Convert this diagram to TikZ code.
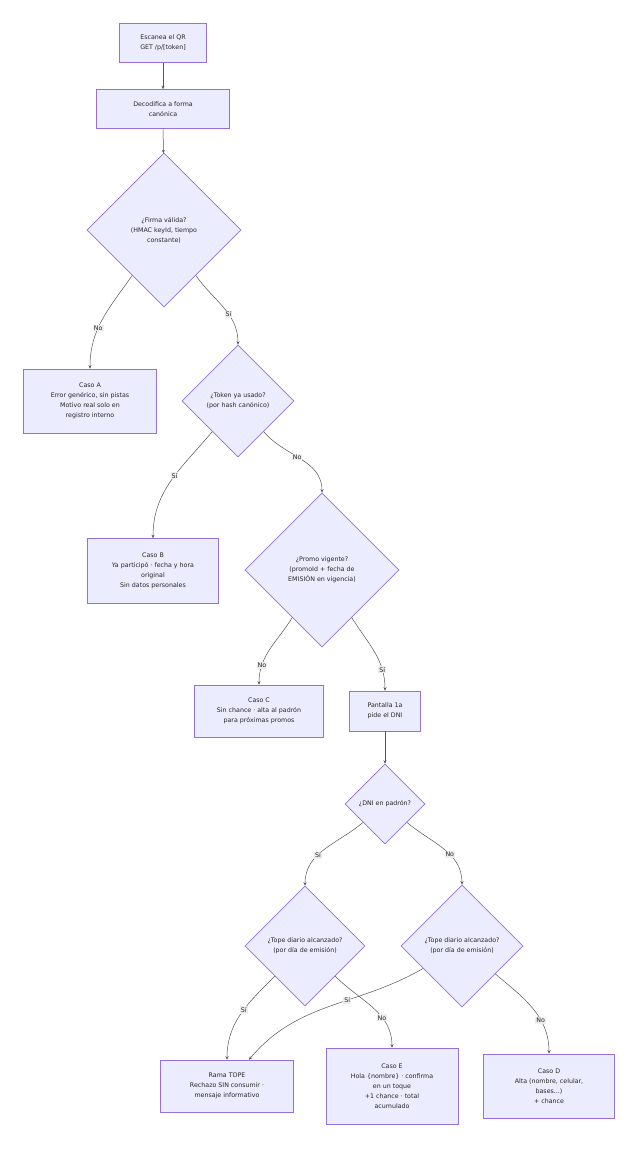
\documentclass[tikz,border=0pt]{standalone}
\usepackage{fontspec}
\setmainfont{DejaVu Sans}
\usetikzlibrary{shapes.geometric,arrows.meta}
\definecolor{nfill}{HTML}{ECECFF}
\definecolor{nline}{HTML}{9370DB}
\definecolor{eline}{HTML}{555555}
\begin{document}
\begin{tikzpicture}[x=1pt,y=-1pt,
  every node/.style={font=\fontsize{6.3}{10}\selectfont,text=black!85},
  box/.style={draw=nline,fill=nfill,line width=0.6pt,align=center,inner sep=0pt},
  dia/.style={draw=nline,fill=nfill,line width=0.6pt,align=center,diamond,inner sep=0pt,aspect=1},
  e/.style={draw=eline,line width=0.5pt,-{Stealth[length=3.5pt,width=3pt]}},
  lab/.style={fill=black!7,inner sep=1pt,font=\fontsize{6.3}{8}\selectfont}]
\useasboundingbox[fill=white] (0,0) rectangle (640,1158);
\node[box,minimum width=87pt,minimum height=39pt] (scan) at (163,43) {Escanea el QR\\GET /p/[token]};
\node[box,minimum width=133pt,minimum height=39pt] (dec) at (163,109) {Decodifica a forma\\canónica};
\node[dia,minimum size=154pt] (firma) at (164,230) {¿Firma válida?\\(HMAC keyId, tiempo\\constante)};
\node[box,minimum width=133pt,minimum height=64pt] (A) at (90,401) {Caso A\\Error genérico, sin pistas\\Motivo real solo en\\registro interno};
\node[dia,minimum size=112pt] (tok) at (238,401) {¿Token ya usado?\\(por hash canónico)};
\node[box,minimum width=131pt,minimum height=65pt] (B) at (153,571) {Caso B\\Ya participó · fecha y hora\\original\\Sin datos personales};
\node[dia,minimum size=154pt] (promo) at (322,570) {¿Promo vigente?\\(promoId + fecha de\\EMISIÓN en vigencia)};
\node[box,minimum width=129pt,minimum height=52pt] (C) at (259,711) {Caso C\\Sin chance · alta al padrón\\para próximas promos};
\node[box,minimum width=71pt,minimum height=40pt] (pan) at (385,711) {Pantalla 1a\\pide el DNI};
\node[dia,minimum size=80pt] (dni) at (385,804) {¿DNI en padrón?};
\node[dia,minimum size=120pt] (t1) at (305,946) {¿Tope diario alcanzado?\\(por día de emisión)};
\node[dia,minimum size=122pt] (t2) at (462,946) {¿Tope diario alcanzado?\\(por día de emisión)};
\node[box,minimum width=133pt,minimum height=52pt] (rama) at (227,1086) {Rama TOPE\\Rechazo SIN consumir ·\\mensaje informativo};
\node[box,minimum width=132pt,minimum height=76pt] (E) at (392,1086) {Caso E\\Hola \{nombre\} · confirma\\en un toque\\+1 chance · total\\acumulado};
\node[box,minimum width=131pt,minimum height=64pt] (D) at (549,1086) {Caso D\\Alta (nombre, celular,\\bases...)\\+ chance};

\draw[e] (scan) -- (dec);
\draw[e] (dec) -- (firma);
\draw[e] (firma) to[out=-125,in=90] node[lab,pos=0.6]{No} (A.north);
\draw[e] (firma) to[out=-55,in=90] node[lab,pos=0.6]{Sí} (tok.north);
\draw[e] (tok) to[out=-130,in=90] node[lab,pos=0.45]{Sí} (B.north);
\draw[e] (tok) to[out=-50,in=90] node[lab,pos=0.45]{No} (promo.north);
\draw[e] (promo) to[out=-122,in=90] node[lab,pos=0.75]{No} (C.north);
\draw[e] (promo) to[out=-58,in=90] node[lab,pos=0.75]{Sí} (pan.north);
\draw[e] (pan) -- (dni);
\draw[e] (dni) to[out=-140,in=90] node[lab,pos=0.6]{Sí} (t1.north);
\draw[e] (dni) to[out=-40,in=90] node[lab,pos=0.6]{No} (t2.north);
\draw[e] (t1) to[out=-135,in=90] node[lab,pos=0.45]{Sí} (rama.north);
\draw[e] (t1) to[out=-45,in=90] node[lab,pos=0.65]{No} (E.north);
\draw[e] (t2) to[out=-150,in=50] node[lab,pos=0.4]{Sí} ([xshift=22pt]rama.north);
\draw[e] (t2) to[out=-40,in=90] node[lab,pos=0.65]{No} (D.north);
\end{tikzpicture}
\end{document}
